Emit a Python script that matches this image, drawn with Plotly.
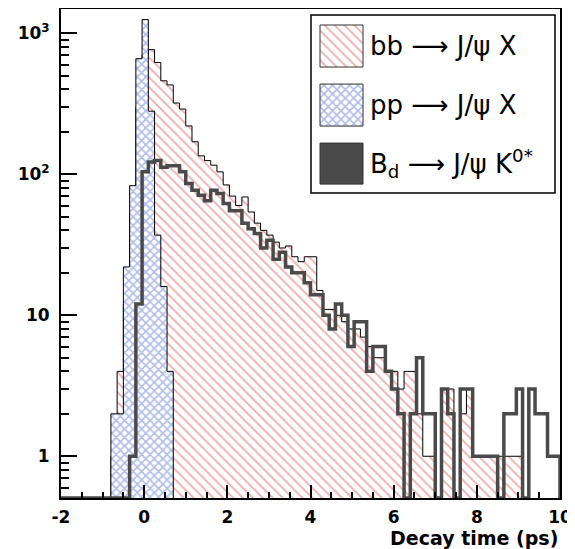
import numpy as np
import plotly.graph_objects as go

# ---------------- data ----------------
t_start = -2.0
bin_width = 0.15
n_bins = 80

bb_counts = [0, 0, 0, 0, 0, 0, 0, 0, 1, 4,
             12, 50, 300, 700, 765, 620, 460, 430, 320, 290,
             220, 170, 135, 125, 116, 104, 84, 70, 60, 69,
             54, 45, 40, 37, 33, 30, 31, 26, 24, 26,
             26, 15, 11, 11, 10, 9, 8, 8, 7, 6,
             5, 5, 4, 4, 3, 4, 4, 2, 1, 1,
             0, 3, 3, 0, 2, 3, 1, 1, 1, 1,
             1, 1, 1, 1, 0, 0, 0, 0, 0, 0]

pp_counts = [0, 0, 0, 0, 0, 0, 0, 0, 2, 2,
             22, 83, 660, 1250, 280, 37, 16, 4, 0, 0,
             0, 0, 0, 0, 0, 0, 0, 0, 0, 0,
             0, 0, 0, 0, 0, 0, 0, 0, 0, 0,
             0, 0, 0, 0, 0, 0, 0, 0, 0, 0,
             0, 0, 0, 0, 0, 0, 0, 0, 0, 0,
             0, 0, 0, 0, 0, 0, 0, 0, 0, 0,
             0, 0, 0, 0, 0, 0, 0, 0, 0, 0]

bd_counts = [0, 0, 0, 0, 0, 0, 0, 0, 0, 0,
             0, 1, 12, 104, 122, 125, 112, 115, 115, 104,
             86, 77, 71, 65, 77, 73, 62, 55, 55, 45,
             41, 38, 30, 34, 25, 28, 22, 20, 20, 17,
             14, 14, 10, 8, 12, 10, 6, 9, 9, 4,
             6, 6, 4, 3, 2, 0, 2, 5, 2, 2,
             0, 3, 2, 0, 3, 3, 1, 1, 1, 1,
             0, 2, 2, 3, 0, 3, 2, 2, 1, 1]

x_tick_vals = [-2, 0, 2, 4, 6, 8, 10]
y_tick_vals = [1, 10, 100, 1000]
y_tick_text = ["1", "10", "10<sup>2</sup>", "10<sup>3</sup>"]

legend_labels = ["bb \u27f6 J/\u03c8 X",
                 "pp \u27f6 J/\u03c8 X",
                 "B<sub>d</sub> \u27f6 J/\u03c8 K<sup>0*</sup>"]

# ---------------- helpers ----------------
edges = t_start + bin_width * np.arange(n_bins + 1)
y_min_log, y_max_log = -0.296, 3.172
axis_floor = 10 ** y_min_log


def step_xy(counts, zero_level):
    xs = [edges[0]]
    ys = [zero_level]
    for i, c in enumerate(counts):
        v = c if c > 0 else zero_level
        xs += [edges[i], edges[i + 1]]
        ys += [v, v]
    xs.append(edges[-1])
    ys.append(zero_level)
    return xs, ys


BB_COL = "#dc5a5a"
PP_COL = "#5f78d4"
BD_COL = "#4a4a4a"

BB_PAT = dict(shape="\\", fgcolor=BB_COL, bgcolor="white", size=7, solidity=0.25)
PP_PAT = dict(shape="x", fgcolor=PP_COL, bgcolor="white", size=6, solidity=0.45)

fig = go.Figure()

bx, by = step_xy(bb_counts, 0.3)
fig.add_trace(go.Scatter(
    x=bx, y=by, mode="lines", fill="toself",
    line=dict(color="black", width=1),
    fillcolor="rgba(0,0,0,0)", fillpattern=BB_PAT,
    showlegend=False, hoverinfo="skip"))

px_, py_ = step_xy(pp_counts, 0.3)
fig.add_trace(go.Scatter(
    x=px_, y=py_, mode="lines", fill="toself",
    line=dict(color="black", width=1),
    fillcolor="rgba(0,0,0,0)", fillpattern=PP_PAT,
    showlegend=False, hoverinfo="skip"))

dx, dy = step_xy(bd_counts, axis_floor)
fig.add_trace(go.Scatter(
    x=dx, y=dy, mode="lines",
    line=dict(color=BD_COL, width=3.5),
    showlegend=False, hoverinfo="skip"))

# ---------------- page geometry (page body has an 8px margin) ----------------
OFF = 8
FIG_W, FIG_H = 575 - OFF, 549 - OFF
L, R, T, B = 61, 560, 9, 497.7          # plot frame in window pixels

# ---------------- legend (drawn on an overlay pixel axis) ----------------
sw_x0, sw_x1 = 320, 363
rows = [(25, 67), (84, 126), (143, 184)]
styles = [
    dict(fillpattern=BB_PAT, fillcolor="rgba(0,0,0,0)"),
    dict(fillpattern=PP_PAT, fillcolor="rgba(0,0,0,0)"),
    dict(fillcolor=BD_COL),
]
for (y0, y1), st in zip(rows, styles):
    fig.add_trace(go.Scatter(
        x=[sw_x0, sw_x1, sw_x1, sw_x0, sw_x0], y=[y0, y0, y1, y1, y0],
        mode="lines", fill="toself", line=dict(color="#333333", width=1),
        xaxis="x2", yaxis="y2", showlegend=False, hoverinfo="skip", **st))

for (y0, y1), lab in zip(rows, legend_labels):
    fig.add_annotation(x=368, y=(y0 + y1) / 2, xref="x2", yref="y2",
                       text=lab, showarrow=False, xanchor="left", yanchor="middle",
                       font=dict(family="DejaVu Sans", size=26, color="black"))

fig.add_shape(type="rect", xref="x2", yref="y2", x0=311, x1=555, y0=15, y1=193,
              line=dict(color="black", width=1.5), fillcolor="rgba(0,0,0,0)", layer="above")

fig.add_annotation(x=1.0, y=(B - 538) / (B - T), xref="paper", yref="paper",
                   text="Decay time (ps)", showarrow=False, xanchor="right", yanchor="middle",
                   font=dict(family="DejaVu Sans", size=19, color="black", weight="bold"))

tick_font = dict(family="DejaVu Sans", size=17, color="black", weight="bold")

x_minor = [v for v in np.arange(-2, 10.01, 0.5) if v not in x_tick_vals]
y_minor = [m * 10 ** d for d in range(-1, 4) for m in range(2, 10)
           if 10 ** y_min_log <= m * 10 ** d <= 10 ** y_max_log]

fig.update_layout(
    width=FIG_W, height=FIG_H,
    margin=dict(l=L - OFF, r=575 - R, t=T - OFF, b=549 - B),
    plot_bgcolor="white", paper_bgcolor="white",
    showlegend=False,
    xaxis=dict(range=[-2, 10], tickmode="array", tickvals=x_tick_vals,
               ticktext=[str(v) for v in x_tick_vals],
               ticks="inside", ticklen=13, tickwidth=1.5, tickcolor="black",
               showline=True, linecolor="black", linewidth=2, mirror=True,
               showgrid=False, zeroline=False, tickfont=tick_font,
               ticklabelstandoff=3, automargin=False,
               minor=dict(tickmode="array", tickvals=x_minor, ticks="inside",
                          ticklen=6, tickwidth=1.5, tickcolor="black", showgrid=False)),
    yaxis=dict(type="log", range=[y_min_log, y_max_log], tickmode="array",
               tickvals=y_tick_vals, ticktext=y_tick_text,
               ticks="inside", ticklen=16, tickwidth=1.5, tickcolor="black",
               showline=True, linecolor="black", linewidth=2, mirror=True,
               showgrid=False, zeroline=False, tickfont=tick_font,
               ticklabelstandoff=6, automargin=False,
               minor=dict(tickmode="array", tickvals=y_minor, ticks="inside",
                          ticklen=8, tickwidth=1.5, tickcolor="black", showgrid=False)),
    xaxis2=dict(range=[L, R], domain=[0, 1], overlaying="x", visible=False, fixedrange=True),
    yaxis2=dict(range=[B, T], domain=[0, 1], overlaying="y", visible=False, fixedrange=True),
)

fig.write_html("out.html")
